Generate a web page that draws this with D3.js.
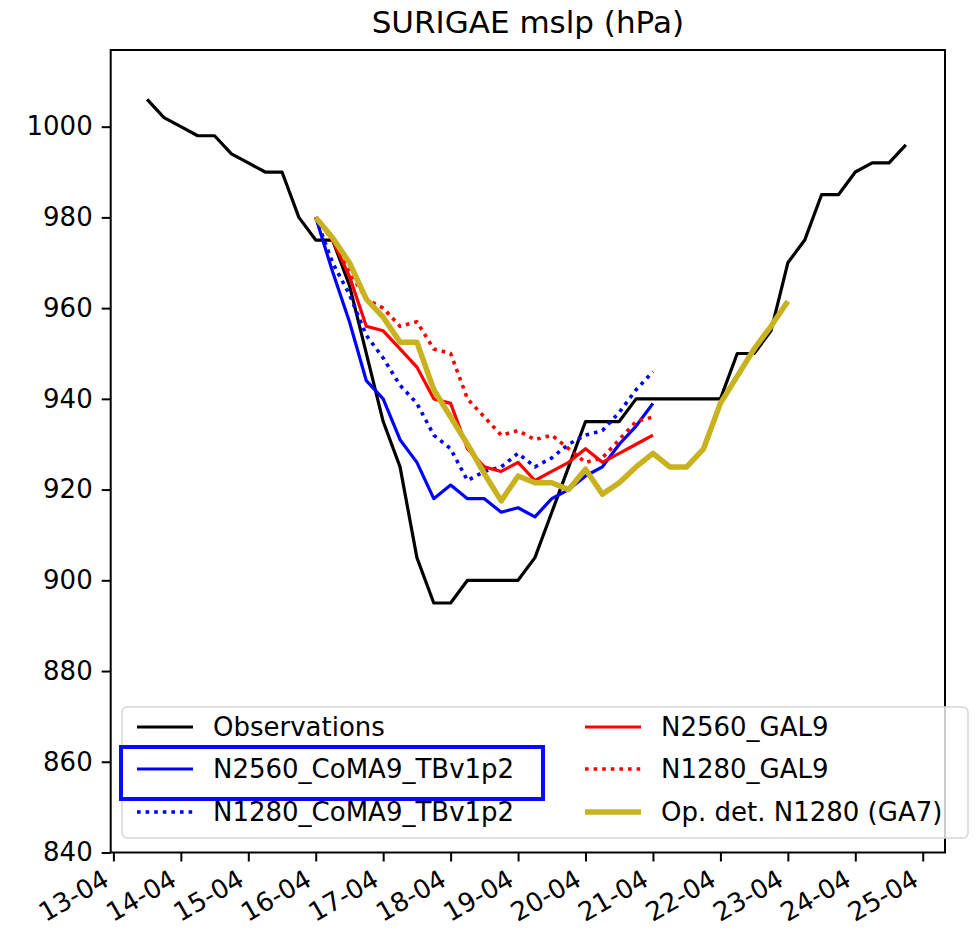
<!DOCTYPE html>
<html lang="en">
<head>
    <meta charset="utf-8">
    <title>SURIGAE mslp</title>
    <script src="https://d3js.org/d3.v7.min.js"></script>
    <style>
        body { margin: 0; background: #fff; }
        svg text { font-family: 'DejaVu Sans', sans-serif; fill: #000; }
    </style>
</head>
<body>
<div id="chart"></div>
<script>
/* global d3 */

// day of April, tick labels
var tickDays = [13, 14, 15, 16, 17, 18, 19, 20, 21, 22, 23, 24, 25];
var tickLabels = ["13-04", "14-04", "15-04", "16-04", "17-04", "18-04", "19-04",
                  "20-04", "21-04", "22-04", "23-04", "24-04", "25-04"];
var yTicks = [840, 860, 880, 900, 920, 940, 960, 980, 1000];

// 6-hourly observations, from 13-04 12Z
var obsStart = 13.5;
var observations = [1006, 1002, 1000, 998, 998, 994, 992, 990, 990, 980,
                    975, 975, 965, 950, 935, 925, 905, 895, 895, 900,
                    900, 900, 900, 905, 915, 925, 935, 935, 935, 940,
                    940, 940, 940, 940, 940, 950, 950, 955, 970, 975,
                    985, 985, 990, 992, 992, 996];

// forecasts, 6-hourly from 16-04 00Z
var fcStart = 16.0;
var n2560Coma9 = [980, 968, 957, 944, 940, 931, 926, 918, 921, 918, 918,
                  915, 916, 914, 918, 920, 923, 925, 930, 934, 939];
var n1280Coma9 = [980, 970, 963, 954, 949, 943, 939, 932, 929, 922, 924,
                  925, 928, 925, 927, 930, 932, 933, 937, 942, 946];
var n2560Gal9  = [980, 975, 967, 956, 955, 951, 947, 940, 939, 929, 925,
                  924, 926, 922, 924, 926, 929, 926, 928, 930, 932];
var n1280Gal9  = [980, 975, 968, 962, 960, 956, 957, 951, 950, 940, 936,
                  932, 933, 931, 932, 929, 926, 927, 931, 935, 936];
var opDetGa7   = [980, 975.5, 970, 962, 958, 952.5, 952.5, 942, 936, 930, 923.5,
                  917.5, 923, 921.5, 921.5, 920, 924.5, 919, 921.5, 925, 928,
                  925, 925, 929, 939, 945, 951, 956, 961.5];

var series = [
    {name: "Observations",        start: obsStart, values: observations, color: "#000000", width: 3.2, dash: null},
    {name: "N2560_CoMA9_TBv1p2",  start: fcStart,  values: n2560Coma9,   color: "#0000ff", width: 3.2, dash: null},
    {name: "N1280_CoMA9_TBv1p2",  start: fcStart,  values: n1280Coma9,   color: "#0000ff", width: 3.6, dash: "3.6,5"},
    {name: "N2560_GAL9",          start: fcStart,  values: n2560Gal9,    color: "#ff0000", width: 3.2, dash: null},
    {name: "N1280_GAL9",          start: fcStart,  values: n1280Gal9,    color: "#ff0000", width: 3.6, dash: "3.6,5"},
    {name: "Op. det. N1280 (GA7)", start: fcStart, values: opDetGa7,     color: "#c9b220", width: 5.5, dash: null}
];

var width = 978, height = 938;
var plotLeft = 110.7, plotRight = 945, plotTop = 50, plotBottom = 852.5;

var svg = d3.select("#chart").append("svg")
    .attr("width", width)
    .attr("height", height);

var x = d3.scaleLinear().domain([12.96, 25.33]).range([plotLeft, plotRight]);
var y = d3.scaleLinear().domain([840, 1016.9]).range([plotBottom, plotTop]);

// title
svg.append("text")
    .attr("x", (plotLeft + plotRight) / 2)
    .attr("y", 33)
    .attr("text-anchor", "middle")
    .style("font-size", "31px")
    .text("SURIGAE mslp (hPa)");

// axes
var yAxis = svg.append("g")
    .attr("transform", "translate(" + plotLeft + ",0)")
    .call(d3.axisLeft(y).tickValues(yTicks).tickSize(9).tickPadding(9)
        .tickFormat(d3.format("d")));
yAxis.select(".domain").remove();
yAxis.selectAll("line").attr("stroke", "#000").attr("stroke-width", 2);
yAxis.selectAll("text")
    .style("font-size", "26px")
    .style("font-family", "'DejaVu Sans', sans-serif");

var xAxis = svg.append("g")
    .attr("transform", "translate(0," + plotBottom + ")")
    .call(d3.axisBottom(x).tickValues(tickDays).tickSize(9)
        .tickFormat(function(d, i) { return tickLabels[i]; }));
xAxis.select(".domain").remove();
xAxis.selectAll("line").attr("stroke", "#000").attr("stroke-width", 2);
xAxis.selectAll("text")
    .style("font-size", "26px")
    .style("font-family", "'DejaVu Sans', sans-serif")
    .attr("text-anchor", "end")
    .attr("dy", null)
    .attr("y", null)
    .attr("transform", "translate(-3,32) rotate(-30)");

// data lines
var line = d3.line()
    .x(function(d) { return x(d[0]); })
    .y(function(d) { return y(d[1]); });

series.forEach(function(s) {
    var pts = s.values.map(function(v, i) { return [s.start + i * 0.25, v]; });
    svg.append("path")
        .datum(pts)
        .attr("d", line)
        .attr("fill", "none")
        .attr("stroke", s.color)
        .attr("stroke-width", s.width)
        .attr("stroke-linejoin", "round")
        .attr("stroke-dasharray", s.dash);
});

// frame
svg.append("rect")
    .attr("x", plotLeft).attr("y", plotTop)
    .attr("width", plotRight - plotLeft).attr("height", plotBottom - plotTop)
    .attr("fill", "none")
    .attr("stroke", "#000")
    .attr("stroke-width", 2);

// legend, two columns
var legend = svg.append("g");
legend.append("rect")
    .attr("x", 122).attr("y", 707)
    .attr("width", 846).attr("height", 131)
    .attr("rx", 5)
    .attr("fill", "#fff").attr("fill-opacity", 0.8)
    .attr("stroke", "#d6d6d6").attr("stroke-width", 1.5);

var colX = [137, 585], rowY = [727, 769, 812];
series.forEach(function(s, i) {
    var cx = colX[Math.floor(i / 3)], cy = rowY[i % 3];
    legend.append("line")
        .attr("x1", cx).attr("x2", cx + 56)
        .attr("y1", cy).attr("y2", cy)
        .attr("stroke", s.color)
        .attr("stroke-width", s.width)
        .attr("stroke-dasharray", s.dash);
    legend.append("text")
        .attr("x", cx + 76).attr("y", cy)
        .attr("dy", "0.36em")
        .style("font-size", "26px")
        .text(s.name);
});

// highlight box round the N2560_CoMA9_TBv1p2 entry
svg.append("rect")
    .attr("x", 121).attr("y", 747)
    .attr("width", 422).attr("height", 52)
    .attr("fill", "none")
    .attr("stroke", "#0a0aff")
    .attr("stroke-width", 4);
</script>
</body>
</html>
